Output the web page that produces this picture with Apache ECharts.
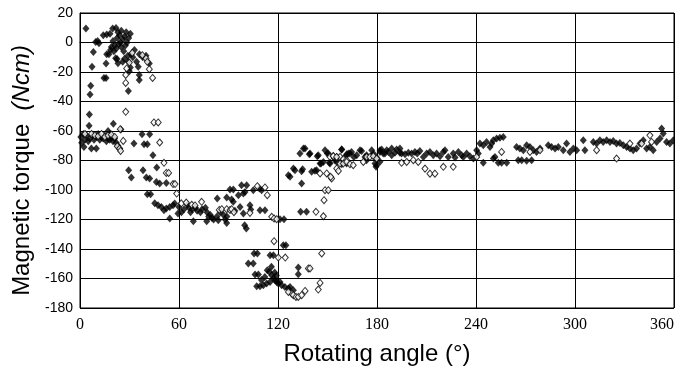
<!DOCTYPE html>
<html>
<head>
<meta charset="utf-8">
<script src="https://cdn.jsdelivr.net/npm/echarts@6/dist/echarts.min.js"></script>
<style>html,body{margin:0;padding:0;background:#fff}#c{width:675px;height:369px}</style>
</head>
<body>
<div id="c"></div>
<script>
var xTicks = [0, 60, 120, 180, 240, 300, 360];
var yTicks = [-180, -160, -140, -120, -100, -80, -60, -40, -20, 0, 20];
var xName = "Rotating angle (°)";
var yName = "Magnetic torque";
var yUnit = "(Ncm)";

// filled diamonds: [angle, torque]
var filledUpper = [[3.6,9.5],[8.1,-6.4],[9.5,0.4],[10.7,1],[11.5,-0.5],[14.1,5],[16.2,5.4],[18.2,6],[19.8,9.5],[21.8,9.9],[22.5,3],[23,7],[24,5],[25,8],[26,2],[27,4],[28,7],[24.5,0],[21,-2],[20,1],[19,-3],[18.5,-5],[17.5,-8],[20.5,-6],[22,-4],[23.5,-1],[25,-3],[26.5,-6],[28.5,0],[29.5,3],[30.5,6],[27.5,-2],[16.2,-7.9],[15.8,-14.2],[7.3,-16.5],[14.5,-24],[15.8,-24],[6.5,-29.4],[6.1,-35.3],[5.7,-48.8],[21.6,-10.7],[22.5,-11.2],[25.9,-13.1],[29.3,-13.1],[29.9,-19.5],[30.5,-17],[29.3,-32.8],[34.3,-13.1],[35.3,-16.5],[35.9,-22],[35.9,-25.5],[31,-8],[33,-5],[36,-8],[38,-10],[40,-9],[42,-14.2],[32,-10],[29,-9],[27,-11],[23,-14],[20.2,-55]];
var filledDescent = [[0.5,-64],[1,-68],[2,-62],[2.4,-70.8],[3,-66],[4,-63],[5,-67],[5.5,-56.5],[6,-65],[6.9,-71.9],[7.5,-63],[8.5,-66],[9.9,-71.9],[10,-64],[11,-62],[12,-66],[13,-64],[14,-65],[15,-63],[16,-67],[17,-65],[18,-66],[19,-64],[20,-67],[21,-65],[22,-68],[23,-70],[24,-72],[17,-60],[18,-62],[24.8,-59],[32.7,-68.5],[37.6,-62.2],[42.2,-62.2],[38.8,-69],[40.8,-69],[44.2,-76.4],[46.5,-84.7],[29.5,-86.6],[31.1,-91.5],[38.2,-86.6],[40.2,-91.5],[42.2,-92.2],[46.3,-94.5],[48.3,-95.6],[52.3,-95.2],[40.8,-102.8],[42.8,-102.8],[45.3,-109],[47.3,-110.3],[49.3,-111.5],[50.9,-113.7],[52.3,-112.5],[54.4,-111.5],[56.4,-110.3],[57.4,-109.2],[59.4,-116],[54.4,-119.3]];
var filledMiddle = [[126.3,-90],[127.3,-91],[90.9,-99.7],[92.9,-99.7],[97.9,-96.7],[101,-96.7],[96,-103.5],[99,-102.4],[100,-101.3],[105,-100.1],[108.7,-99],[110.1,-100.1],[88.9,-105],[91.9,-106.4],[92.9,-108],[83.2,-105.8],[60,-111.5],[61.5,-115],[63,-113],[65,-110],[66,-112],[67,-115],[68,-113],[70,-112],[71,-114],[73,-115],[74,-113],[76,-112],[77,-115],[78,-118],[79,-117],[80,-119],[81,-120],[83,-118],[85,-115],[87,-117],[88,-120],[89,-118],[93.9,-114],[97,-111.5],[99,-116],[103,-110.3],[103.5,-113.2],[109.1,-113.7],[112.1,-113.7],[121.2,-119.8],[123.6,-119.8],[68.7,-121.2],[76.8,-121.2],[83.8,-120.5],[88.9,-122.3],[99.8,-123.9],[100.8,-126.1],[123.2,-137.4],[124.8,-137.4],[105.5,-143],[107.5,-143],[115.2,-144.2],[117.2,-144.2],[102,-149.8],[105,-149.8],[106.1,-157.3],[108.1,-157.3],[113.5,-154.4],[114.7,-155.5],[116.2,-157.8],[117.2,-160],[118.2,-161.2],[119.2,-162.3],[120.2,-163.4],[121.2,-162.3],[115.2,-162.3],[113.1,-163.4],[111.1,-164.5],[109.1,-165.2],[107.1,-165.2],[110,-161],[112,-159],[116,-152],[118,-156],[119,-158],[122.2,-164.5],[124.2,-165.7],[126.3,-166.8],[127.3,-165.7],[129.3,-167.9],[132.3,-152.5],[132.3,-157.1],[133.7,-114.8],[137.3,-114.8],[134.3,-95.6]];
var filledRise = [[129.3,-85.4],[130.3,-86.6],[134.3,-87.3],[134.9,-85.9],[140.4,-87.7],[142.4,-87],[143.4,-86.6],[145.5,-82],[147.5,-81],[135.4,-71.9],[133.3,-75.3],[139,-75.7],[143.8,-77.1],[148.5,-73],[149.9,-75.3],[158.6,-72.5],[161.6,-75.7],[146.1,-82],[151.1,-81.6],[155.6,-81],[158.6,-82.5],[161.6,-82],[136.4,-71.9],[139.4,-75.3],[144.4,-76.4],[150.5,-75.3],[151.5,-82],[154.5,-79.8],[155.6,-77.6],[160.6,-77.6],[163.6,-75.3],[169.7,-73],[173.7,-79.8],[176.8,-73],[178.8,-82],[179.4,-84.3],[181.8,-73],[183.8,-75.3],[185.9,-73],[188.9,-71.9],[191.9,-72.6],[193.9,-74.8],[181.8,-80.9]];
var filledPlateau = [[158.6,-72.6],[162.6,-75.3],[164.6,-74.2],[166,-77.6],[167.7,-76.4],[170.7,-73.5],[172.7,-77.6],[173.7,-76.4],[177.8,-75.3],[179.8,-78],[179.8,-83.2],[181.8,-74.2],[182.8,-72.6],[184.8,-75.3],[186.9,-74.2],[188.9,-76.4],[190.9,-74.8],[193.9,-71.9],[194.9,-75.3],[197,-75.8],[199,-74.8],[201,-75.3],[203,-74.2],[204.4,-75.3],[206,-73.5],[208.1,-77.6],[210.1,-75.3],[212.1,-74.2],[214.1,-76.4],[216.1,-75.3],[218.2,-77.1],[220.2,-74.2],[221.2,-73],[223.2,-77.6],[226.2,-75.3],[227.3,-78],[229.3,-74.2],[231.3,-76.4],[232.3,-77.6],[234.3,-75.3],[236.3,-77.1],[238.4,-78.7],[240.4,-73],[241.4,-75.3],[242.4,-68.5],[244.4,-69.6],[246.4,-67.4],[248.5,-70.8],[249.5,-68.5],[250.5,-66.3],[252.5,-65.1],[254.5,-64.5],[256.5,-64],[251.5,-77.6],[244.4,-81.6],[250.5,-78.6],[253.5,-81.6],[255.5,-81.6],[258.6,-81.6],[264.6,-70.8],[266.6,-71.9],[268.7,-73],[270.7,-69.6],[272.7,-70.8],[274.7,-73],[276.7,-74.2],[278.8,-71.9],[265.6,-79.8],[267.7,-79.8],[270.7,-80.2],[273.7,-79.8],[283.8,-69.6],[285.8,-70.8],[287.9,-71.9],[289.9,-70.8],[292.9,-73],[294.9,-68.5],[296.9,-74.2],[299,-71.9],[301,-73],[305,-66.3],[306,-73],[311.1,-67.4],[313.1,-68.5],[315.1,-66.3],[317.1,-67.4],[319.2,-66.3],[321.2,-67.4],[323.2,-66.7],[325.2,-68.5],[327.2,-68.1],[329.3,-69.6],[331.3,-70.8],[333.3,-71.9],[335.3,-73],[337.3,-71.9],[339.4,-68.5],[341.4,-66.3],[343.4,-71.9],[345.4,-70.8],[347.4,-73],[349.5,-67.4],[351.5,-65.1],[352.5,-58.3],[353.5,-61.7],[355.5,-67.4],[357.5,-68.5],[359.6,-66.3]];

// open diamonds: [angle, torque]
var openPts = [[31.7,-7],[29.9,-13.6],[28.3,-17.6],[27.7,-22],[27.7,-27.4],[37.8,-8.6],[40,-10.8],[40.8,-13.1],[42,-18.1],[44,-24],[27.7,-47],[44.8,-54.2],[47.4,-54.2],[24.4,-58.8],[3,-62],[7,-62],[9,-63],[11,-63.5],[13,-62],[15,-64],[17,-63],[19,-62.5],[21,-64],[22.6,-70.3],[24,-71.9],[24.6,-73.5],[26.2,-66.7],[48.3,-67.8],[50.9,-81.6],[52.3,-88.4],[53.7,-88.4],[56.4,-96],[57.6,-96],[58.6,-102.4],[61.4,-109],[64.4,-108.5],[67.7,-110],[69.7,-110.5],[73.7,-108],[84.4,-113.5],[85.9,-113],[88.9,-113],[90.9,-113.5],[91.9,-113],[93.3,-115],[103,-115.5],[107.5,-97.4],[112.1,-98.3],[113.5,-103.5],[116.2,-118.2],[117.6,-119.3],[119.2,-119.8],[117.6,-134.7],[120.2,-145.8],[124.4,-145.8],[128.3,-170.2],[129.3,-171.3],[130.9,-172.5],[132.3,-172.5],[136.4,-168.4],[134.3,-171.3],[126.3,-169.1],[138.4,-153.2],[139.4,-153.2],[145.5,-163],[144.4,-167.5],[146.5,-143],[143,-114.8],[147.5,-117.8],[147.9,-106.9],[148.5,-100.1],[150.5,-100.1],[151.5,-77.5],[153.5,-77],[155.6,-78],[157.6,-77.5],[159.6,-79],[161.6,-79.8],[155.6,-85.4],[156.6,-87.1],[152.5,-92.2],[151.9,-91.1],[145.5,-88.8],[149.5,-88.8],[153.5,-77.1],[155.5,-77.6],[157.6,-82.1],[159.6,-82.1],[161.6,-81],[163.6,-82.5],[165.6,-83.2],[171.7,-81],[173.7,-77.6],[175.7,-77.6],[177.8,-77.1],[179.8,-78.7],[194.9,-81.6],[198,-81],[202,-79.8],[205,-81],[209.1,-85.5],[212.1,-88.9],[215.1,-88.9],[220.2,-84.3],[226.2,-84.3],[240.4,-77.6],[255.5,-74.2],[272.7,-74.2],[278.8,-73],[313.1,-73],[325.2,-78.7],[333.3,-68.5],[340.4,-68.5],[345.4,-62.9],[346.4,-67.4]];

var filledAll = filledUpper.concat(filledDescent, filledMiddle, filledRise, filledPlateau);

var chart = echarts.init(document.getElementById('c'), null, {renderer: 'canvas'});
chart.setOption({
  animation: false,
  backgroundColor: '#fff',
  grid: {left: 80, right: 1, top: 13, bottom: 61, outerBoundsMode: 'none', containLabel: false,
         show: true, borderColor: '#000', borderWidth: 1, backgroundColor: 'transparent'},
  xAxis: {
    type: 'value', min: xTicks[0], max: xTicks[xTicks.length - 1], interval: 60,
    name: xName, nameLocation: 'middle', nameGap: 34,
    nameTextStyle: {fontFamily: 'Liberation Sans, Arial', fontSize: 24, color: '#000'},
    axisLine: {show: true, lineStyle: {color: '#000', width: 1}},
    axisTick: {show: false},
    axisLabel: {fontFamily: 'Liberation Serif, Times New Roman', fontSize: 16, color: '#000', margin: 9,
                alignMaxLabel: 'right'},
    splitLine: {show: true, lineStyle: {color: '#000', width: 1}}
  },
  yAxis: {
    type: 'value', min: yTicks[0], max: yTicks[yTicks.length - 1], interval: 20,
    name: '{a|' + yName + '  }{b|' + yUnit + '}', nameLocation: 'middle', nameGap: 46, nameRotate: 90,
    nameTextStyle: {fontFamily: 'Liberation Sans, Arial', fontSize: 24, color: '#000', padding: [0, 20, 0, 0],
      rich: {a: {fontFamily: 'Liberation Sans, Arial', fontSize: 24, color: '#000'},
             b: {fontFamily: 'Liberation Sans, Arial', fontSize: 24, fontStyle: 'italic', color: '#000'}}},
    axisLine: {show: true, lineStyle: {color: '#000', width: 1}},
    axisTick: {show: false},
    axisLabel: {fontFamily: 'Liberation Sans, Arial', fontSize: 14, color: '#000', margin: 7},
    splitLine: {show: true, lineStyle: {color: '#000', width: 1}}
  },
  series: [
    {type: 'scatter', data: filledAll, symbol: 'diamond', symbolSize: [7, 8],
     itemStyle: {color: '#000', borderColor: '#000', borderWidth: 0}, z: 3},
    {type: 'scatter', data: openPts, symbol: 'diamond', symbolSize: [6, 7],
     itemStyle: {color: '#fff', borderColor: '#000', borderWidth: 1}, z: 4}
  ]
});
</script>
</body>
</html>
